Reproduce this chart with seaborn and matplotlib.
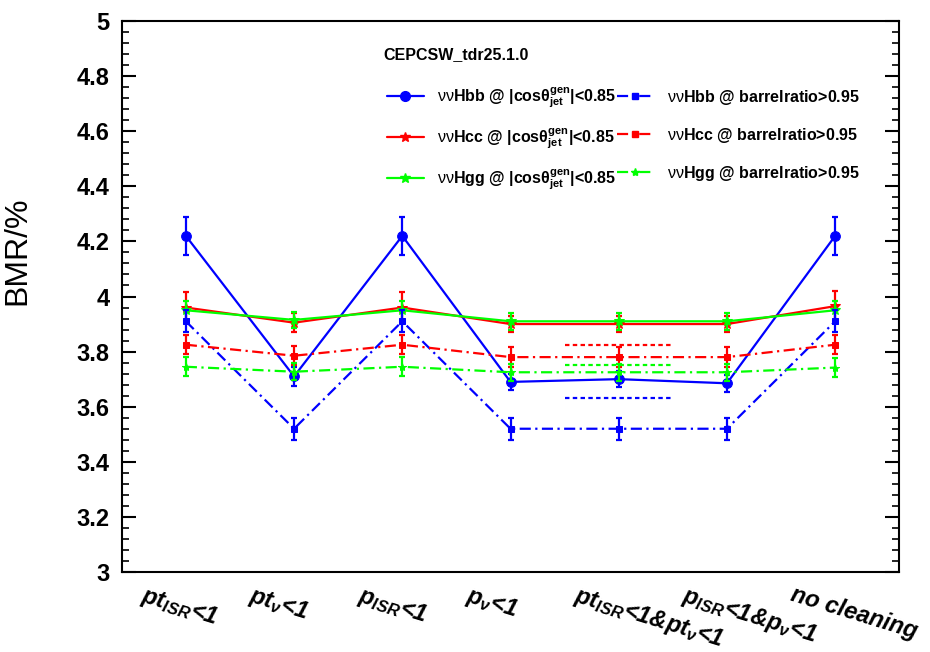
import matplotlib
matplotlib.use("Agg")
import matplotlib.pyplot as plt
from matplotlib.lines import Line2D
from matplotlib.ticker import MultipleLocator, FuncFormatter
from matplotlib.transforms import ScaledTranslation
import seaborn as sns
import pandas as pd
import numpy as np

# categories (cleaning cut) on the x axis
categories = [r"$pt_{ISR}$<1", r"$pt_{\nu}$<1", r"$p_{ISR}$<1", r"$p_{\nu}$<1",
              r"$pt_{ISR}$<1&$pt_{\nu}$<1", r"$p_{ISR}$<1&$p_{\nu}$<1",
              "no cleaning"]

# BMR values (%) for |cos theta_jet^gen| < 0.85
hbb_cos = [4.22, 3.71, 4.22, 3.69, 3.70, 3.685, 4.22]
hcc_cos = [3.96, 3.905, 3.96, 3.90, 3.90, 3.90, 3.965]
hgg_cos = [3.95, 3.915, 3.95, 3.91, 3.91, 3.91, 3.95]
hbb_cos_err = [0.07, 0.035, 0.07, 0.03, 0.03, 0.03, 0.07]
hcc_cos_err = [0.055, 0.035, 0.055, 0.03, 0.03, 0.03, 0.055]
hgg_cos_err = [0.035, 0.03, 0.035, 0.03, 0.03, 0.03, 0.035]

# BMR values (%) for barrelratio > 0.95
hbb_bar = [3.91, 3.52, 3.91, 3.52, 3.52, 3.52, 3.91]
hcc_bar = [3.825, 3.785, 3.825, 3.78, 3.78, 3.78, 3.825]
hgg_bar = [3.745, 3.727, 3.745, 3.725, 3.725, 3.725, 3.742]
hbb_bar_err = [0.04, 0.04, 0.04, 0.04, 0.04, 0.04, 0.04]
hcc_bar_err = [0.035, 0.035, 0.035, 0.035, 0.035, 0.035, 0.035]
hgg_bar_err = [0.035, 0.03, 0.035, 0.03, 0.03, 0.03, 0.035]

# short dotted reference levels (blue, red, green)
ref_levels = [3.63, 3.825, 3.75]

sns.set_style("ticks")
plt.rcParams['font.family'] = ['Liberation Sans', 'DejaVu Sans']
plt.rcParams['text.color'] = 'black'
plt.rcParams['xtick.color'] = 'black'
plt.rcParams['ytick.color'] = 'black'
plt.rcParams['axes.edgecolor'] = 'black'
plt.rcParams['mathtext.fontset'] = 'custom'
plt.rcParams['mathtext.rm'] = 'Liberation Sans:bold:italic'
plt.rcParams['mathtext.it'] = 'Liberation Sans:bold:italic'
plt.rcParams['mathtext.bf'] = 'Liberation Sans:bold:italic'
plt.rcParams['mathtext.sf'] = 'Liberation Sans:bold'
plt.rcParams['mathtext.cal'] = 'Liberation Sans'

fig = plt.figure(figsize=(9.3, 6.52), dpi=100)
ax = fig.add_axes([122 / 930, 1 - 572 / 652, (899 - 122) / 930, (572 - 21) / 652])

x = np.arange(len(categories))
blue, red, green = (0, 0, 1), (1, 0, 0), (0, 1, 0)
dashdot = (0, (5, 2, 1, 2))

series = [
    (hbb_cos, hbb_cos_err, blue, '-', 'o', 7),
    (hcc_cos, hcc_cos_err, red, '-', '*', 7),
    (hgg_cos, hgg_cos_err, green, '-', '*', 7),
    (hbb_bar, hbb_bar_err, blue, dashdot, 's', 5),
    (hcc_bar, hcc_bar_err, red, dashdot, 's', 5),
    (hgg_bar, hgg_bar_err, green, dashdot, '*', 6),
]

for vals, errs, col, ls, mk, ms in series:
    df = pd.DataFrame({'x': x, 'bmr': vals})
    sns.lineplot(data=df, x='x', y='bmr', ax=ax, color=col, linestyle=ls,
                 linewidth=1.6, marker=mk, markersize=ms,
                 markeredgecolor=col, sort=False)
    ax.errorbar(x, vals, yerr=errs, fmt='none', ecolor=col,
                elinewidth=1.6, capsize=2.5, capthick=1.6)

# short dotted lines under the pt_ISR&pt_nu point
mid = 4
for lvl, col in zip(ref_levels, [blue, red, green]):
    ax.plot([mid - 0.5, mid + 0.5], [lvl, lvl], color=col,
            linestyle=(0, (2, 1.5)), linewidth=1.6)

ax.set_xlim(-0.59, 6.59)
ax.set_ylim(3, 5)
ax.yaxis.set_major_locator(MultipleLocator(0.2))
ax.yaxis.set_minor_locator(MultipleLocator(0.04))
ax.yaxis.set_major_formatter(FuncFormatter(lambda v, p: f"{v:g}"))
ax.tick_params(axis='y', which='major', direction='in', length=10, width=1.5,
               right=True, labelsize=17, pad=9)
ax.tick_params(axis='y', which='minor', direction='in', length=5, width=1.2,
               right=True)
for lab in ax.get_yticklabels():
    lab.set_fontweight('bold')

ax.set_xticks(x)
ax.set_xticklabels(categories, rotation=-17, ha='left', va='top',
                   rotation_mode='anchor', fontsize=17,
                   fontweight='bold', fontstyle='italic')
ax.tick_params(axis='x', length=0, pad=8)
shift = ScaledTranslation(-40 / 100, 0, fig.dpi_scale_trans)
for lab in ax.get_xticklabels():
    lab.set_transform(lab.get_transform() + shift)

for sp in ax.spines.values():
    sp.set_linewidth(1.5)
    sp.set_visible(True)

ax.set_xlabel("")
ax.set_ylabel("")
fig.text(17.5 / 930, 1 - 251 / 652, "BMR/%", rotation=90, fontsize=23,
         ha='center', va='center')

fig.text(383 / 930, 1 - 55 / 652, "CEPCSW_tdr25.1.0", fontsize=11.5,
         fontweight='bold', ha='left', va='center')

cos_txt = r"@ |cos$\mathsf{\theta}^{\mathsf{gen}}_{\mathsf{jet}}$|<0.85"
labels = [r"$\mathcal{\nu\nu}$Hbb " + cos_txt,
          r"$\mathcal{\nu\nu}$Hcc " + cos_txt,
          r"$\mathcal{\nu\nu}$Hgg " + cos_txt,
          r"$\mathcal{\nu\nu}$Hbb @ barrelratio>0.95",
          r"$\mathcal{\nu\nu}$Hcc @ barrelratio>0.95",
          r"$\mathcal{\nu\nu}$Hgg @ barrelratio>0.95"]
handles = [Line2D([], [], color=c, linestyle=ls, linewidth=1.6, marker=mk,
                  markersize=ms) for _, _, c, ls, mk, ms in series]
leg_kw = dict(frameon=False, loc='upper left', bbox_transform=fig.transFigure,
              prop={'weight': 'bold', 'size': 11.5}, handlelength=2.3,
              handletextpad=0.8, borderpad=0, borderaxespad=0)
leg1 = ax.legend(handles[:3], labels[:3], bbox_to_anchor=(387 / 930, 1 - 85 / 652),
                 labelspacing=1.02, **leg_kw)
ax.add_artist(leg1)
ax.legend(handles[3:], labels[3:], bbox_to_anchor=(617 / 930, 1 - 88 / 652),
          labelspacing=1.18, **leg_kw)

fig.savefig("out.png", dpi=100)
